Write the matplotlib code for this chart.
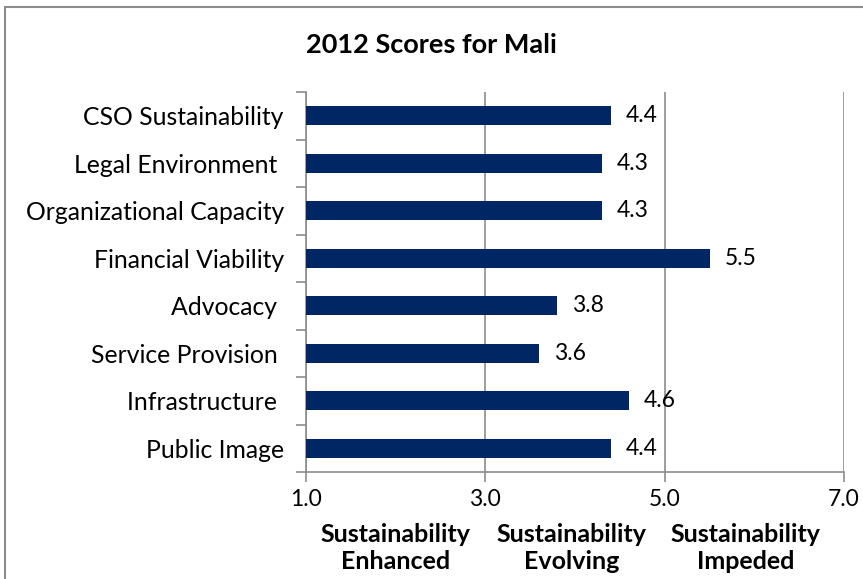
import matplotlib
matplotlib.use('Agg')
import matplotlib.pyplot as plt
from matplotlib.patches import Rectangle

plt.rcParams['font.family'] = ['Lato', 'DejaVu Sans']

# Data
categories = ['CSO Sustainability', 'Legal Environment ', 'Organizational Capacity',
              'Financial Viability', 'Advocacy ', 'Service Provision ',
              'Infrastructure ', 'Public Image']
scores = [4.4, 4.3, 4.3, 5.5, 3.8, 3.6, 4.6, 4.4]
x_ticks = [1.0, 3.0, 5.0, 7.0]
zones = ['Sustainability\nEnhanced', 'Sustainability\nEvolving', 'Sustainability\nImpeded']
zone_centers = [2.0, 3.96, 5.9]

BAR = '#002664'
AXIS = '#8c8c8c'

fig = plt.figure(figsize=(8.63, 5.79), dpi=100)
ax = fig.add_axes([0.3546, 0.1848, 0.6234, 0.6562])

# chart border
fig.patches.append(Rectangle((5 / 863, -0.1), 1.2, 1 - 7 / 579 + 0.1,
                             transform=fig.transFigure, fill=False,
                             edgecolor='#8c8c8c', linewidth=1.5))

y = list(range(len(categories)))
ax.barh(y, [s - 1.0 for s in scores], left=1.0, height=0.4, color=BAR, zorder=3)
for yi, s in zip(y, scores):
    ax.text(s + 0.17, yi, f'{s:.1f}', va='center', ha='left', fontsize=16.5)

ax.set_xlim(1, 7)
ax.set_ylim(len(categories) - 0.5, -0.5)
ax.set_xticks(x_ticks)
ax.set_xticklabels([f'{t:.1f}' for t in x_ticks], fontsize=16.5)
ax.set_yticks([i - 0.5 for i in range(len(categories) + 1)])
ax.set_yticklabels([])
ax.set_yticks(y, minor=True)
ax.set_yticklabels(categories, minor=True, fontsize=17.8)
ax.tick_params(axis='y', which='minor', length=0, pad=16)
ax.tick_params(axis='y', which='major', length=7, color=AXIS, width=1.2)
ax.tick_params(axis='x', length=7, color=AXIS, width=1.2, pad=5)

ax.grid(axis='x', color=AXIS, linewidth=1.2, zorder=0)
for side in ['top', 'right']:
    ax.spines[side].set_visible(False)
for side in ['left', 'bottom']:
    ax.spines[side].set_color(AXIS)
    ax.spines[side].set_linewidth(1.2)

for zx, zl in zip(zone_centers, zones):
    ax.text(zx, -0.135, zl, transform=ax.get_xaxis_transform(), ha='center', va='top',
            fontsize=18.0, fontweight='bold', linespacing=1.2)

fig.text(0.5, 1 - 45 / 579, '2012 Scores for Mali', ha='center', va='center',
         fontsize=19.5, fontweight='bold')

fig.savefig('out.png', dpi=100)
